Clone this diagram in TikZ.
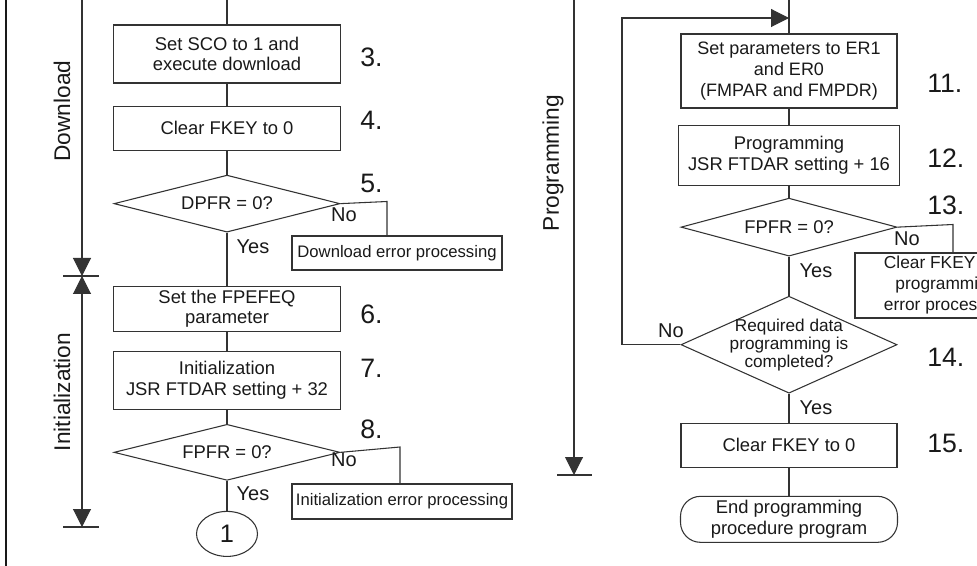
\documentclass[tikz,border=0pt]{standalone}
\usepackage{fontspec}
\setmainfont{Liberation Sans}
\usetikzlibrary{arrows.meta,positioning,shapes.geometric}

\begin{document}
\begin{tikzpicture}[
  x=0.75pt, y=-0.75pt,
  line/.style={draw=black!80, line width=0.8pt},
  arrow/.style={line, -{Triangle[length=13.5pt, width=13.5pt]}},
  box/.style={line, rectangle, minimum width=170.25pt, align=center,
    inner sep=2pt, text=black!90, font=\fontsize{13.8}{15.5}\selectfont},
  rbox/.style={box, minimum width=162pt},
  decision/.style={line, diamond, aspect=4, inner sep=0pt, align=center,
    text=black!90, font=\fontsize{13.8}{15.5}\selectfont},
  errbox/.style={line, rectangle, align=center, inner sep=1pt,
    text=black!90, font=\fontsize{12.5}{14}\selectfont},
  stepnum/.style={anchor=west, inner sep=0pt, text=black!90,
    font=\fontsize{20}{22}\selectfont},
  yesno/.style={inner sep=0pt, text=black!90, font=\fontsize{15}{16}\selectfont},
  phase/.style={rotate=90, inner sep=0pt, text=black!90,
    font=\fontsize{17}{18}\selectfont}
]
  \clip (0,0) rectangle (977,566);
  \draw[line width=1.7pt, black!90] (6,0) -- (6,566);

  % phase axes
  \coordinate (dlTop) at (82,0);
  \coordinate (dlEnd) at (82,276);
  \coordinate (inEnd) at (82,527);
  \coordinate (prTop) at (574,0);
  \coordinate (prEnd) at (574,475);
  \draw[arrow] (dlTop) -- (dlEnd);
  \draw[arrow, {Triangle[length=13.5pt, width=13.5pt]}-{Triangle[length=13.5pt, width=13.5pt]}] (dlEnd) -- (inEnd);
  \draw[arrow] (prTop) -- (prEnd);
  \draw[line] ([xshift=-14.25pt]dlEnd) -- ([xshift=12.75pt]dlEnd);
  \draw[line] ([xshift=-14.25pt]inEnd) -- ([xshift=12.75pt]inEnd);
  \draw[line] ([xshift=-12.75pt]prEnd) -- ([xshift=13.5pt]prEnd);
  \node[phase] (download) at (62,111) {Download};
  \node[phase] (init) at (62,392) {Initialization};
  \node[phase] (prog) at (553,163) {Programming};

  % download and initialization
  \coordinate (topL) at (227,0);
  \node[box, minimum height=43.5pt] (sco) at (227,54) {Set SCO to 1 and\\execute download};
  \node[box, minimum height=33pt, below=16.5pt of sco] (fkeyA) {Clear FKEY to 0};
  \node[decision, minimum width=169.5pt, minimum height=42.75pt, below=18pt of fkeyA] (dpfr) {DPFR = 0?};
  \node[box, minimum height=33.75pt, below=39.75pt of dpfr] (fpefeq) {Set the FPEFEQ\\parameter};
  \node[box, minimum height=43.5pt, below=14.25pt of fpefeq] (initjsr) {Initialization\\JSR FTDAR setting + 32};
  \node[decision, minimum width=169.5pt, minimum height=42pt, below=10.5pt of initjsr] (fpfrA) {FPFR = 0?};
  \node[line, ellipse, minimum width=45.75pt, minimum height=33.75pt, inner sep=0pt,
    text=black!90, font=\fontsize{19}{20}\selectfont, below=22.5pt of fpfrA] (conn) {1};

  \node[errbox, minimum width=157.5pt, minimum height=25.5pt] (dlerr) at (397,253) {Download error processing};
  \node[errbox, minimum width=165pt, minimum height=26.25pt] (initerr) at (402,501.5) {Initialization error processing};

  \draw[line] (topL) -- (sco);
  \draw[line] (sco) -- (fkeyA);
  \draw[line] (fkeyA) -- (dpfr);
  \draw[line] (dpfr) -- (fpefeq);
  \draw[line] (fpefeq) -- (initjsr);
  \draw[line] (initjsr) -- (fpfrA);
  \draw[line] (fpfrA) -- (conn);
  \coordinate (noA) at (387,201.5);
  \coordinate (noB) at (400,447);
  \draw[line] (dpfr.east) -- (noA) -- (noA |- dlerr.north);
  \draw[line] (fpfrA.east) -- (noB) -- (noB |- initerr.north);

  \node[yesno] (yesA) at (253,247) {Yes};
  \node[yesno] (noLblA) at (344,215) {No};
  \node[yesno] (yesB) at (253,494) {Yes};
  \node[yesno] (noLblB) at (344,460) {No};

  \node[stepnum] (n3) at (360,57) {3.};
  \node[stepnum] (n4) at (360,120) {4.};
  \node[stepnum] (n5) at (360,183) {5.};
  \node[stepnum] (n6) at (360,314) {6.};
  \node[stepnum] (n7) at (360,368) {7.};
  \node[stepnum] (n8) at (360,429) {8.};

  % programming
  \coordinate (topR) at (789,0);
  \coordinate (loopL) at (622,18);
  \node[rbox, minimum height=55.5pt, font=\fontsize{13.5}{15.75}\selectfont] (params) at (789,71) {Set parameters to ER1\\and ER0\\(FMPAR and FMPDR)};
  \node[rbox, minimum width=165.75pt, minimum height=45pt, font=\fontsize{13.8}{16}\selectfont, below=12pt of params] (progjsr) {Programming\\JSR FTDAR setting + 16};
  \node[decision, minimum width=162pt, minimum height=43.5pt, below=9pt of progjsr] (fpfrB) {FPFR = 0?};
  \node[decision, aspect=2.23, inner sep=-3pt, minimum width=162pt, minimum height=72.75pt,
    font=\fontsize{12.9}{13.5}\selectfont, below=29.25pt of fpfrB] (done) {Required data\\programming is\\completed?};
  \node[rbox, minimum height=33pt, below=21.75pt of done] (fkeyB) {Clear FKEY to 0};
  \node[rbox, rounded corners=15pt, minimum width=162.75pt, minimum height=34.5pt, below=21pt of fkeyB] (endprog) {End programming\\procedure program};

  \node[errbox, minimum width=137.25pt, minimum height=48.75pt, font=\fontsize{13}{15.75}\selectfont] (progerr) at (946.5,285.5) {Clear FKEY to 0\\programming\\error processing};

  \draw[line] (topR) -- (params);
  \draw[line] (params) -- (progjsr);
  \draw[line] (progjsr) -- (fpfrB);
  \draw[line] (fpfrB) -- (done);
  \draw[line] (done) -- (fkeyB);
  \draw[line] (fkeyB) -- (endprog);
  \coordinate (noC) at (953,224.5);
  \draw[line] (fpfrB.east) -- (noC) -- (noC |- progerr.north);
  \draw[arrow] (done.west) -| (loopL) -- (loopL -| params);

  \node[yesno] (yesC) at (816,271) {Yes};
  \node[yesno] (noLblC) at (907,239) {No};
  \node[yesno] (yesD) at (816,408) {Yes};
  \node[yesno] (noLblD) at (671,331) {No};

  \node[stepnum] (n11) at (927,83) {11.};
  \node[stepnum] (n12) at (927,158) {12.};
  \node[stepnum] (n13) at (927,205) {13.};
  \node[stepnum] (n14) at (927,357) {14.};
  \node[stepnum] (n15) at (927,443) {15.};
\end{tikzpicture}
\end{document}
